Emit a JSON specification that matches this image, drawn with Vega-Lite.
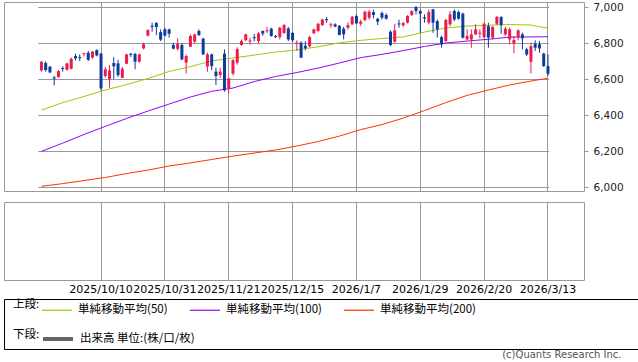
{
  "$schema": "https://vega.github.io/schema/vega-lite/v6.json",
  "padding": {"left": 3, "top": 1, "right": 0, "bottom": 0},
  "background": "white",
  "config": {
    "view": {"stroke": "#999999"},
    "axis": {"gridColor": "#999999", "gridOpacity": 1, "gridWidth": 1, "domain": false, "title": null},
    "font": "DejaVu Sans"
  },
  "title": {"text": "(c)Quants Research Inc.", "orient": "bottom", "anchor": "end", "font": "DejaVu Sans", "fontSize": 10, "fontWeight": "normal", "color": "#555555", "offset": 0, "dx": -17},
  "datasets": {
    "k": [
      {"d":"2025/9/22","o":6648,"h":6700,"l":6641,"c":6696,"ma50":6428,"ma100":6198,"ma200":6004},
      {"d":"2025/9/23","o":6689,"h":6698,"l":6641,"c":6650},
      {"d":"2025/9/24","o":6669,"h":6672,"l":6633,"c":6637},
      {"d":"2025/9/25","o":6609,"h":6617,"l":6565,"c":6603},
      {"d":"2025/9/26","o":6611,"h":6650,"l":6607,"c":6644},
      {"d":"2025/9/29","o":6662,"h":6670,"l":6641,"c":6656,"ma50":6469,"ma100":6244,"ma200":6019},
      {"d":"2025/9/30","o":6652,"h":6691,"l":6646,"c":6687},
      {"d":"2025/10/1","o":6657,"h":6719,"l":6654,"c":6713},
      {"d":"2025/10/2","o":6728,"h":6741,"l":6704,"c":6715},
      {"d":"2025/10/3","o":6722,"h":6737,"l":6700,"c":6716},
      {"d":"2025/10/6","o":6738,"h":6746,"l":6726,"c":6744,"ma50":6503,"ma100":6292,"ma200":6036},
      {"d":"2025/10/7","o":6746,"h":6756,"l":6700,"c":6707},
      {"d":"2025/10/8","o":6719,"h":6756,"l":6713,"c":6752},
      {"d":"2025/10/9","o":6761,"h":6765,"l":6726,"c":6731},
      {"d":"2025/10/10","o":6741,"h":6746,"l":6537,"c":6548},
      {"d":"2025/10/13","o":6617,"h":6667,"l":6607,"c":6654,"ma50":6539,"ma100":6337,"ma200":6053},
      {"d":"2025/10/14","o":6600,"h":6678,"l":6552,"c":6648},
      {"d":"2025/10/15","o":6689,"h":6722,"l":6600,"c":6671},
      {"d":"2025/10/16","o":6687,"h":6707,"l":6611,"c":6622},
      {"d":"2025/10/17","o":6607,"h":6667,"l":6604,"c":6657},
      {"d":"2025/10/20","o":6685,"h":6740,"l":6683,"c":6737,"ma50":6569,"ma100":6381,"ma200":6075},
      {"d":"2025/10/21","o":6740,"h":6746,"l":6722,"c":6734},
      {"d":"2025/10/22","o":6739,"h":6746,"l":6654,"c":6696},
      {"d":"2025/10/23","o":6696,"h":6741,"l":6691,"c":6737},
      {"d":"2025/10/24","o":6770,"h":6802,"l":6765,"c":6793},
      {"d":"2025/10/27","o":6841,"h":6876,"l":6837,"c":6872,"ma50":6603,"ma100":6422,"ma200":6094},
      {"d":"2025/10/28","o":6896,"h":6913,"l":6863,"c":6890},
      {"d":"2025/10/29","o":6911,"h":6917,"l":6844,"c":6889},
      {"d":"2025/10/30","o":6861,"h":6876,"l":6811,"c":6819},
      {"d":"2025/10/31","o":6876,"h":6885,"l":6837,"c":6841},
      {"d":"2025/11/3","o":6876,"h":6880,"l":6830,"c":6852,"ma50":6642,"ma100":6461,"ma200":6117},
      {"d":"2025/11/4","o":6789,"h":6802,"l":6765,"c":6769},
      {"d":"2025/11/5","o":6768,"h":6826,"l":6758,"c":6796},
      {"d":"2025/11/6","o":6789,"h":6800,"l":6705,"c":6709},
      {"d":"2025/11/7","o":6691,"h":6737,"l":6630,"c":6728},
      {"d":"2025/11/10","o":6780,"h":6848,"l":6778,"c":6839,"ma50":6669,"ma100":6500,"ma200":6134},
      {"d":"2025/11/11","o":6807,"h":6852,"l":6800,"c":6848},
      {"d":"2025/11/12","o":6867,"h":6876,"l":6839,"c":6844},
      {"d":"2025/11/13","o":6824,"h":6830,"l":6733,"c":6737},
      {"d":"2025/11/14","o":6669,"h":6746,"l":6641,"c":6737},
      {"d":"2025/11/17","o":6737,"h":6741,"l":6650,"c":6672,"ma50":6701,"ma100":6532,"ma200":6153},
      {"d":"2025/11/18","o":6641,"h":6663,"l":6567,"c":6617},
      {"d":"2025/11/19","o":6622,"h":6663,"l":6605,"c":6641},
      {"d":"2025/11/20","o":6741,"h":6765,"l":6530,"c":6537},
      {"d":"2025/11/21","o":6548,"h":6607,"l":6521,"c":6604},
      {"d":"2025/11/24","o":6630,"h":6710,"l":6620,"c":6705,"ma50":6717,"ma100":6550,"ma200":6172},
      {"d":"2025/11/25","o":6691,"h":6776,"l":6680,"c":6766},
      {"d":"2025/11/26","o":6789,"h":6820,"l":6785,"c":6811},
      {"d":"2025/11/28","o":6815,"h":6852,"l":6813,"c":6848},
      {"d":"2025/12/1","o":6808,"h":6830,"l":6790,"c":6814},
      {"d":"2025/12/2","o":6832,"h":6850,"l":6810,"c":6826,"ma50":6733,"ma100":6586,"ma200":6189},
      {"d":"2025/12/3","o":6811,"h":6860,"l":6800,"c":6854},
      {"d":"2025/12/4","o":6867,"h":6870,"l":6840,"c":6852},
      {"d":"2025/12/5","o":6865,"h":6890,"l":6855,"c":6871},
      {"d":"2025/12/8","o":6880,"h":6885,"l":6835,"c":6839},
      {"d":"2025/12/9","o":6839,"h":6845,"l":6828,"c":6833,"ma50":6750,"ma100":6614,"ma200":6206},
      {"d":"2025/12/10","o":6833,"h":6890,"l":6820,"c":6885},
      {"d":"2025/12/11","o":6856,"h":6905,"l":6850,"c":6900},
      {"d":"2025/12/12","o":6881,"h":6889,"l":6811,"c":6820},
      {"d":"2025/12/15","o":6857,"h":6860,"l":6805,"c":6816},
      {"d":"2025/12/16","o":6797,"h":6815,"l":6756,"c":6803,"ma50":6762,"ma100":6636,"ma200":6228},
      {"d":"2025/12/17","o":6802,"h":6810,"l":6717,"c":6719},
      {"d":"2025/12/18","o":6785,"h":6810,"l":6760,"c":6772},
      {"d":"2025/12/19","o":6783,"h":6840,"l":6775,"c":6833},
      {"d":"2025/12/22","o":6854,"h":6880,"l":6850,"c":6876},
      {"d":"2025/12/23","o":6867,"h":6912,"l":6860,"c":6907,"ma50":6779,"ma100":6661,"ma200":6253},
      {"d":"2025/12/24","o":6900,"h":6935,"l":6895,"c":6930},
      {"d":"2025/12/26","o":6933,"h":6944,"l":6913,"c":6927},
      {"d":"2025/12/29","o":6898,"h":6913,"l":6885,"c":6904},
      {"d":"2025/12/30","o":6904,"h":6910,"l":6888,"c":6891},
      {"d":"2025/12/31","o":6896,"h":6900,"l":6843,"c":6845,"ma50":6801,"ma100":6689,"ma200":6283},
      {"d":"2026/1/2","o":6880,"h":6890,"l":6820,"c":6848},
      {"d":"2026/1/5","o":6885,"h":6915,"l":6875,"c":6900},
      {"d":"2026/1/6","o":6904,"h":6950,"l":6900,"c":6946},
      {"d":"2026/1/7","o":6950,"h":6960,"l":6905,"c":6909},
      {"d":"2026/1/8","o":6907,"h":6930,"l":6895,"c":6919,"ma50":6815,"ma100":6719,"ma200":6319},
      {"d":"2026/1/9","o":6928,"h":6980,"l":6920,"c":6974},
      {"d":"2026/1/12","o":6941,"h":6985,"l":6930,"c":6974},
      {"d":"2026/1/13","o":6972,"h":6985,"l":6937,"c":6956},
      {"d":"2026/1/14","o":6935,"h":6940,"l":6900,"c":6919},
      {"d":"2026/1/15","o":6967,"h":6976,"l":6930,"c":6941,"ma50":6825,"ma100":6737,"ma200":6347},
      {"d":"2026/1/16","o":6956,"h":6965,"l":6930,"c":6935},
      {"d":"2026/1/20","o":6863,"h":6870,"l":6783,"c":6789},
      {"d":"2026/1/21","o":6807,"h":6907,"l":6802,"c":6870},
      {"d":"2026/1/22","o":6909,"h":6930,"l":6885,"c":6903},
      {"d":"2026/1/23","o":6898,"h":6918,"l":6890,"c":6911,"ma50":6834,"ma100":6758,"ma200":6383},
      {"d":"2026/1/26","o":6913,"h":6955,"l":6908,"c":6950},
      {"d":"2026/1/27","o":6956,"h":6982,"l":6950,"c":6978},
      {"d":"2026/1/28","o":7000,"h":7005,"l":6959,"c":6978},
      {"d":"2026/1/29","o":6978,"h":6987,"l":6857,"c":6963},
      {"d":"2026/1/30","o":6944,"h":6959,"l":6913,"c":6937,"ma50":6861,"ma100":6781,"ma200":6425},
      {"d":"2026/2/2","o":6913,"h":6987,"l":6904,"c":6972},
      {"d":"2026/2/3","o":6987,"h":6990,"l":6857,"c":6913},
      {"d":"2026/2/4","o":6922,"h":6930,"l":6830,"c":6876},
      {"d":"2026/2/5","o":6833,"h":6840,"l":6774,"c":6793},
      {"d":"2026/2/6","o":6811,"h":6935,"l":6805,"c":6928,"ma50":6884,"ma100":6800,"ma200":6469},
      {"d":"2026/2/9","o":6904,"h":6978,"l":6894,"c":6959},
      {"d":"2026/2/10","o":6978,"h":6987,"l":6922,"c":6931},
      {"d":"2026/2/11","o":6972,"h":6980,"l":6930,"c":6935},
      {"d":"2026/2/12","o":6963,"h":6970,"l":6825,"c":6830},
      {"d":"2026/2/13","o":6820,"h":6876,"l":6815,"c":6839,"ma50":6894,"ma100":6811,"ma200":6509},
      {"d":"2026/2/17","o":6820,"h":6876,"l":6774,"c":6848},
      {"d":"2026/2/18","o":6848,"h":6904,"l":6845,"c":6876},
      {"d":"2026/2/19","o":6851,"h":6876,"l":6826,"c":6857},
      {"d":"2026/2/20","o":6833,"h":6913,"l":6826,"c":6907},
      {"d":"2026/2/23","o":6894,"h":6913,"l":6774,"c":6830,"ma50":6899,"ma100":6821,"ma200":6539},
      {"d":"2026/2/24","o":6830,"h":6895,"l":6820,"c":6889},
      {"d":"2026/2/25","o":6907,"h":6950,"l":6900,"c":6946},
      {"d":"2026/2/26","o":6944,"h":6950,"l":6852,"c":6900},
      {"d":"2026/2/27","o":6848,"h":6890,"l":6840,"c":6880},
      {"d":"2026/3/2","o":6820,"h":6885,"l":6793,"c":6876,"ma50":6903,"ma100":6833,"ma200":6567},
      {"d":"2026/3/3","o":6796,"h":6839,"l":6743,"c":6817},
      {"d":"2026/3/4","o":6830,"h":6876,"l":6815,"c":6870},
      {"d":"2026/3/5","o":6848,"h":6857,"l":6765,"c":6826},
      {"d":"2026/3/6","o":6765,"h":6774,"l":6728,"c":6737},
      {"d":"2026/3/9","o":6696,"h":6802,"l":6630,"c":6783,"ma50":6900,"ma100":6834,"ma200":6589},
      {"d":"2026/3/10","o":6796,"h":6815,"l":6756,"c":6774},
      {"d":"2026/3/11","o":6793,"h":6811,"l":6746,"c":6770},
      {"d":"2026/3/12","o":6741,"h":6746,"l":6667,"c":6672},
      {"d":"2026/3/13","o":6672,"h":6737,"l":6617,"c":6630,"ma50":6882,"ma100":6835,"ma200":6604}
    ]
  },
  "spacing": 3,
  "vconcat": [
    {
      "spacing": 7,
      "vconcat": [
        {
          "width": 580,
          "height": 189,
          "data": {"name": "k"},
          "encoding": {
            "x": {
              "field": "d", "type": "ordinal", "sort": null,
              "scale": {"type": "band", "paddingInner": 0, "paddingOuter": 0, "range": [35.3, 546.1]},
              "axis": {"values": ["2025/10/10","2025/10/31","2025/11/21","2025/12/15","2026/1/7","2026/1/29","2026/2/20","2026/3/13"], "labels": false, "ticks": false, "domain": false, "grid": true, "bandPosition": 0.5, "title": null}
            }
          },
          "layer": [
            {
              "mark": {"type": "point", "opacity": 0},
              "encoding": {
                "y": {"field": "c", "type": "quantitative",
                  "scale": {"domain": [5978, 7028], "nice": false, "zero": false},
                  "axis": {"orient": "right", "tickCount": 6, "labelExpr": "format(datum.value, ',')", "labelOverlap": false, "labelFont": "DejaVu Sans", "labelFontSize": 10.5, "labelColor": "#222222", "tickSize": 4, "tickColor": "#999999", "labelPadding": 5, "grid": true, "domain": false, "title": null}}
              }
            },
            {
              "mark": {"type": "line", "strokeWidth": 1, "invalid": "filter"},
              "encoding": {
                "y": {"field": "ma50", "type": "quantitative"},
                "color": {"datum": "単純移動平均(50)",
                  "scale": {"domain": ["単純移動平均(50)", "単純移動平均(100)", "単純移動平均(200)"], "range": ["#99cc00", "#9900ff", "#ff3300"]},
                  "legend": {"orient": "none", "legendX": 9, "legendY": 292, "direction": "horizontal", "gridAlign": "each", "title": "上段:", "titleOrient": "left", "titleFont": "Noto Sans CJK JP", "titleFontSize": 11.5, "titleFontWeight": "normal", "titleColor": "#000000", "titlePadding": 1, "labelFont": "Noto Sans CJK JP", "labelFontSize": 11.5, "labelColor": "#000000", "labelOffset": 5, "labelLimit": 300, "symbolType": "stroke", "symbolSize": 900, "symbolStrokeWidth": 1.2, "columnPadding": 19}}
              }
            },
            {
              "mark": {"type": "line", "strokeWidth": 1, "invalid": "filter"},
              "encoding": {
                "y": {"field": "ma100", "type": "quantitative"},
                "color": {"datum": "単純移動平均(100)"}
              }
            },
            {
              "mark": {"type": "line", "strokeWidth": 1, "invalid": "filter"},
              "encoding": {
                "y": {"field": "ma200", "type": "quantitative"},
                "color": {"datum": "単純移動平均(200)"}
              }
            },
            {
              "mark": {"type": "rule", "strokeWidth": 1},
              "encoding": {
                "y": {"field": "l", "type": "quantitative"},
                "y2": {"field": "h"},
                "color": {"condition": {"test": "datum.c >= datum.o", "value": "#ef1a4c"}, "value": "#0d3b9e"}
              }
            },
            {
              "mark": {"type": "bar", "size": 3},
              "encoding": {
                "y": {"field": "o", "type": "quantitative"},
                "y2": {"field": "c"},
                "color": {"condition": {"test": "datum.c >= datum.o", "value": "#ef1a4c"}, "value": "#0d3b9e"}
              }
            }
          ]
        },
        {
          "width": 580,
          "height": 78,
          "data": {"name": "k"},
          "layer": [
            {
              "mark": {"type": "point", "opacity": 0},
              "encoding": {
                "x": {
                  "field": "d", "type": "ordinal", "sort": null,
                  "scale": {"type": "band", "paddingInner": 0, "paddingOuter": 0, "range": [35.3, 546.1]},
                  "axis": {"values": ["2025/10/10","2025/10/31","2025/11/21","2025/12/15","2026/1/7","2026/1/29","2026/2/20","2026/3/13"], "labelAngle": 0, "labelFont": "DejaVu Sans", "labelFontSize": 11, "labelColor": "#000000", "labelPadding": 3, "ticks": false, "domain": false, "grid": true, "bandPosition": 0.5, "labelOverlap": false, "labelBound": false, "labelFlush": false, "title": null}
                }
              }
            },
            {
              "mark": {"type": "line", "color": "#666666", "strokeWidth": 4, "invalid": "filter"},
              "encoding": {
                "x": {"field": "d", "type": "ordinal", "sort": null},
                "y": {"field": "vol", "type": "quantitative", "axis": null},
                "strokeDash": {"datum": "出来高 単位:(株/口/枚)",
                  "scale": {"domain": ["出来高 単位:(株/口/枚)"], "range": [[1, 0]]},
                  "legend": {"orient": "none", "legendX": 9, "legendY": 320, "direction": "horizontal", "title": "下段:", "titleOrient": "left", "titleFont": "Noto Sans CJK JP", "titleFontSize": 11.5, "titleFontWeight": "normal", "titleColor": "#000000", "titlePadding": 1, "labelFont": "Noto Sans CJK JP", "labelFontSize": 11.5, "labelColor": "#000000", "labelOffset": 5, "labelLimit": 300, "symbolType": "stroke", "symbolSize": 900, "symbolStrokeWidth": 4, "symbolStrokeColor": "#666666", "symbolOpacity": 1}}
              }
            }
          ]
        }
      ]
    },
    {
      "width": 634,
      "height": 50,
      "data": {"values": [{"z": 0}]},
      "mark": {"type": "point", "opacity": 0},
      "view": {"stroke": "#000000", "strokeWidth": 1}
    }
  ]
}
